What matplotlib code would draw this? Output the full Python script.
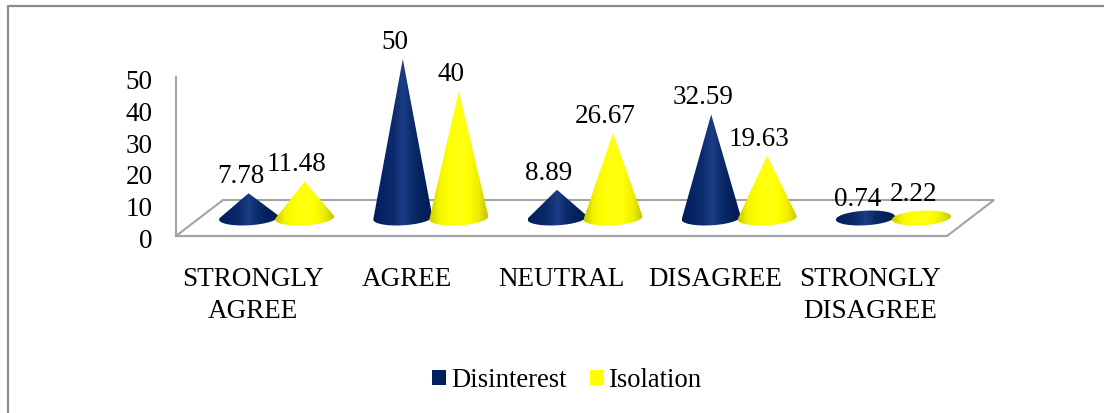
import numpy as np
import matplotlib
matplotlib.use('Agg')
import matplotlib.pyplot as plt
from matplotlib.colors import LinearSegmentedColormap
from matplotlib.lines import Line2D
from matplotlib.patches import Patch, PathPatch, Polygon
from matplotlib.path import Path
from matplotlib.transforms import ScaledTranslation

categories = ['STRONGLY\nAGREE', 'AGREE', 'NEUTRAL', 'DISAGREE', 'STRONGLY\nDISAGREE']
disinterest = [7.78, 50, 8.89, 32.59, 0.74]
isolation = [11.48, 40, 26.67, 19.63, 2.22]
yticks = [0, 10, 20, 30, 40, 50]

W, H = 1104, 413
GREY = '#a3a3a3'
NAVY = '#002060'
YELLOW = '#ffff00'

plt.rcParams['font.family'] = ['Liberation Serif', 'DejaVu Serif']
plt.rcParams['font.size'] = 19.5

blue_map = LinearSegmentedColormap.from_list('blue', ['#021d5a', '#062465', '#0c2b6c', '#1c3d84', '#0b2a69', '#03205c', '#021b54'])
yellow_map = LinearSegmentedColormap.from_list('yellow', ['#c8c800', '#f4f400', '#ffff00', '#ffff10', '#ffff00', '#eeee00', '#c4c400'])

fig = plt.figure(figsize=(W / 100, H / 100), dpi=100)
ax = fig.add_axes([176 / W, (H - 236) / H, 771 / W, 159 / H])
ax.set_xlim(-0.5, 4.5)
ax.set_ylim(0, 50)

px_x = 5 / 771      # one pixel in x data units
px_y = 50 / 159     # one pixel in y data units

# depth of the floor, the cones stand halfway back
depth_x = 47 * px_x
depth_y = 36 * px_y


def cone(x, value, cmap):
    a = 29.5 * px_x
    b = 7.3 * px_y
    base = depth_y / 2
    h = value / b
    if h > 1:
        th = np.arccos(1 / h)
        t = np.linspace(np.pi / 2 + th, 2.5 * np.pi - th, 80)
    else:
        t = np.linspace(0, 2 * np.pi, 80)
    u = np.cos(t)
    v = np.sin(t)
    xs = x + a * u
    # bases lean up slightly to the right
    ys = base + b * v + 1.6 * px_y * u
    if h > 1:
        xs = np.append(xs, x)
        ys = np.append(ys, base + value)
    grad = np.linspace(0, 1, 256).reshape(1, -1)
    im = ax.imshow(grad, cmap=cmap, aspect='auto', zorder=3,
                   extent=(x - a, x + a, 0, base + value + b + 2))
    clip = PathPatch(Path(np.column_stack([xs, ys]), closed=False), fc='none', ec='none',
                     transform=ax.transData, clip_on=False)
    ax.add_patch(clip)
    im.set_clip_path(clip)
    im.set_clip_box(fig.bbox)


# floor behind the cones
back = Polygon([(-0.5, 0), (-0.5 + depth_x, depth_y), (4.5 + depth_x, depth_y), (4.5, 0)],
               closed=True, fill=False, ec=GREY, lw=1.5, zorder=1, clip_on=False)
ax.add_patch(back)

offset = 28 * px_x
for i in range(len(categories)):
    for x, val, cmap in [(i - offset, disinterest[i], blue_map), (i + offset, isolation[i], yellow_map)]:
        x = x + depth_x / 2
        cone(x, val, cmap)
        ax.annotate(str(val), (x, depth_y / 2 + val), xytext=(-8 * 0.72, 16.5 * 0.72),
                    textcoords='offset points', ha='center', va='center',
                    annotation_clip=False, zorder=4)

ax.set_xlim(-0.5, 4.5)
ax.set_ylim(0, 50)

ax.set_xticks(range(len(categories)))
ax.set_xticklabels(categories, linespacing=1.4, fontsize=19.5)
ax.set_yticks(yticks)
ax.tick_params(axis='x', length=0, pad=22)
ax.tick_params(axis='y', length=0, pad=17)
shift = ScaledTranslation(0, -2.5 / 100, fig.dpi_scale_trans)
for lab in ax.get_yticklabels():
    lab.set_transform(lab.get_transform() + shift)
for side in ['top', 'right']:
    ax.spines[side].set_visible(False)
for side in ['left', 'bottom']:
    ax.spines[side].set_color(GREY)
    ax.spines[side].set_linewidth(1.5)
ax.patch.set_alpha(0)

handles = [Patch(fc=NAVY, ec='none', label='Disinterest'), Patch(fc=YELLOW, ec='none', label='Isolation')]
fig.legend(handles=handles, loc='center', bbox_to_anchor=(567 / W, 1 - 380.5 / H), ncol=2, frameon=False,
           fontsize=19.2, handlelength=0.53, handleheight=0.53, handletextpad=0.2, columnspacing=0.85,
           borderpad=0, borderaxespad=0)

# outer chart frame, open on the right and running off the bottom
fig.add_artist(Line2D([7.5 / W, 7.5 / W, 1], [0, 1 - 5.5 / H, 1 - 5.5 / H], color='#8c8c8c', lw=1.6))

fig.savefig('out.png', dpi=100)
